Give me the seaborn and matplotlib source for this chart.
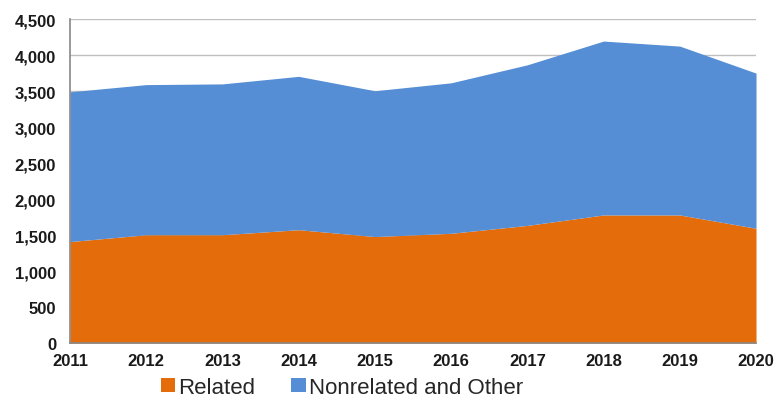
import pandas as pd
import matplotlib
matplotlib.use("Agg")
import matplotlib.pyplot as plt
import seaborn as sns
from matplotlib.ticker import FuncFormatter
from matplotlib.patches import Patch

# 数据
years = [2011, 2012, 2013, 2014, 2015, 2016, 2017, 2018, 2019, 2020]
related = [1410, 1505, 1505, 1575, 1480, 1525, 1635, 1780, 1780, 1595]
nonrelated = [2080, 2085, 2095, 2130, 2025, 2090, 2230, 2415, 2345, 2155]
labels = ["Related", "Nonrelated and Other"]
colors = ["#E46C0A", "#558ED5"]

df = pd.DataFrame({"year": years, "Related": related, "Nonrelated and Other": nonrelated})

sns.set_style("white")
plt.rcParams["font.family"] = ["Liberation Sans", "DejaVu Sans"]

fig = plt.figure(figsize=(7.77, 4.02), dpi=100)
ax = fig.add_axes([0.090, 0.144, 0.883, 0.806])

ax.stackplot(df["year"], df["Related"], df["Nonrelated and Other"], colors=colors, linewidth=0, zorder=2)

ax.set_xlim(2011, 2020)
ax.set_ylim(0, 4500)
ax.set_xticks(years)
ax.set_yticks(range(0, 4501, 500))
ax.yaxis.set_major_formatter(FuncFormatter(lambda v, p: f"{int(v):,}"))
ax.yaxis.grid(True, color="#BFBFBF", lw=1, zorder=0)
ax.set_axisbelow(True)

for s in ["top", "right"]:
    ax.spines[s].set_visible(False)
for s in ["left", "bottom"]:
    ax.spines[s].set_color("#888888")
    ax.spines[s].set_linewidth(1.2)
    ax.spines[s].set_zorder(3)

ax.tick_params(axis="both", which="major", direction="out", length=4, width=1,
               color="#888888", labelsize=12, labelcolor="#1a1a1a")
ax.tick_params(axis="y", pad=6)
ax.tick_params(axis="x", pad=3)
for t in ax.get_xticklabels() + ax.get_yticklabels():
    t.set_fontweight("bold")

handles = [Patch(facecolor=c, edgecolor="none") for c in colors]
fig.legend(handles, labels, loc="center", bbox_to_anchor=(0.44, 0.034), ncol=2,
           frameon=False, fontsize=16, handlelength=0.65, handleheight=0.65,
           handletextpad=0.15, columnspacing=1.6, labelcolor="#262626",
           borderpad=0.1)

fig.savefig("out.png", dpi=100)
